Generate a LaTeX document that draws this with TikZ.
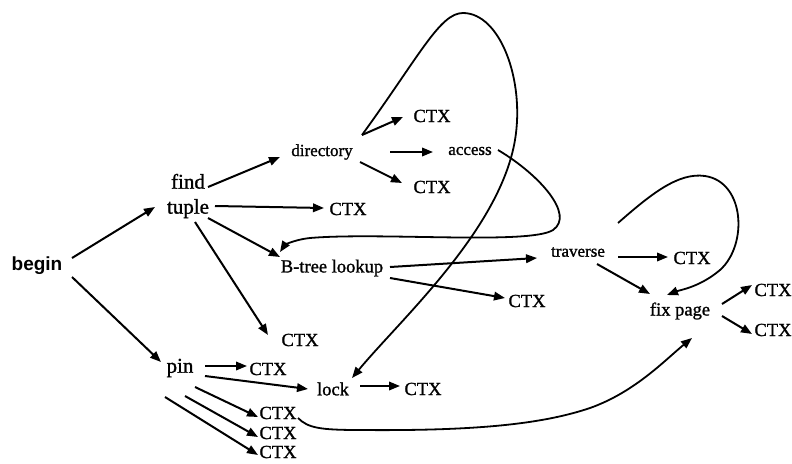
\documentclass[tikz,border=0pt]{standalone}
\usepackage{fontspec}
\setmainfont{Liberation Serif}[FakeBold=1.2]
\newfontfamily\bsans{Liberation Sans}
\usetikzlibrary{arrows.meta,calc}
\tikzset{
  lbl/.style={font=\fontsize{18.5}{20}\selectfont, inner sep=0pt},
  lsmall/.style={font=\fontsize{17}{18}\selectfont, inner sep=0pt},
  lbig/.style={font=\fontsize{21}{25}\selectfont, inner sep=0pt, align=center},
  lbegin/.style={font=\bsans\bfseries\fontsize{19}{20}\selectfont, inner sep=0pt},
  arr/.style={line width=2pt, -{Triangle[length=11pt,width=8.5pt]}},
  carr/.style={line width=1.8pt, -{Triangle[length=11pt,width=8.5pt]}}
}
\newcommand\arr[4]{\draw[arr] ($(#1)+(#2)$) -- ($(#3)+(#4)$);}
\begin{document}
\begin{tikzpicture}[x=1pt,y=-1pt]
\useasboundingbox (0,0) rectangle (792,463);
\node[lbegin] (begin) at (37,266) {begin};
\node[lbig] (ft) at (188,196) {find\\tuple};
\node[lsmall] (dir) at (322,152) {directory};
\node[lbl] (ctxA) at (432,116) {CTX};
\node[lsmall] (acc) at (470,151) {access};
\node[lbl] (ctxB) at (432,187) {CTX};
\node[lbl] (ctxC) at (348,209) {CTX};
\node[lbl] (bt) at (332,268) {B-tree lookup};
\node[lbl] (ctxD) at (300,340) {CTX};
\node[lsmall] (trv) at (578,252) {traverse};
\node[lbl] (ctxE) at (692,258) {CTX};
\node[lbl] (ctxF) at (527,301) {CTX};
\node[lbl] (fix) at (680,311) {fix page};
\node[lbl] (ctxG) at (773,290) {CTX};
\node[lbl] (ctxH) at (773,330) {CTX};
\node[lbig] (pin) at (180,368) {pin};
\node[lbl] (ctxI) at (268,369) {CTX};
\node[lbl] (lock) at (333,389) {lock};
\node[lbl] (ctxJ) at (423,389) {CTX};
\node[lbl] (ctxK) at (278,413) {CTX};
\node[lbl] (ctxL) at (278,433) {CTX};
\node[lbl] (ctxM) at (278,452) {CTX};

\arr{begin}{35,-8}{ft}{-33,11}
\arr{begin}{35,11}{pin}{-19,-6}
\arr{ft}{20,-9}{dir}{-42,5}
\arr{ft}{27,10}{ctxC}{-24,-1}
\arr{ft}{20,22}{bt}{-52,-11}
\arr{ft}{7,26}{ctxD}{-32,-5}
\arr{dir}{40,-17}{ctxA}{-29,1}
\arr{dir}{68,0}{acc}{-37,1}
\arr{dir}{38,10}{ctxB}{-30,-4}
\arr{bt}{58,-1}{trv}{-41,6}
\arr{bt}{58,10}{ctxF}{-22,-3}
\arr{trv}{40,5}{ctxE}{-24,-1}
\arr{trv}{19,12}{fix}{-30,-17}
\arr{fix}{42,-7}{ctxG}{-21,-5}
\arr{fix}{42,5}{ctxH}{-21,4}
\arr{pin}{25,-2}{ctxI}{-21,-3}
\arr{pin}{25,8}{lock}{-25,0}
\arr{lock}{27,-3}{ctxJ}{-23,-3}
\arr{pin}{15,19}{ctxK}{-20,4}
\arr{pin}{5,28}{ctxL}{-20,4}
\arr{pin}{-15,29}{ctxM}{-20,3}

% big loop from directory to lock
\draw[carr] ($(dir)+(40,-17)$) .. controls (420,55) and (440,13) .. (463,13)
  .. controls (500,13) and (525,80) .. (515,140)
  .. controls (500,230) and (400,320) .. ($(lock)+(19,-11)$);
% access back to B-tree lookup
\draw[carr] ($(acc)+(28,-1)$) .. controls (540,175) and (575,215) .. (553,230)
  .. controls (530,245) and (380,232) .. (310,238)
  .. controls (292,240) and (284,246) .. ($(bt)+(-52,-16)$);
% traverse loop to fix page
\draw[carr] ($(trv)+(40,-29)$) .. controls (650,195) and (678,172) .. (705,176)
  .. controls (745,182) and (748,245) .. (720,270)
  .. controls (700,287) and (680,290) .. ($(fix)+(-13,-16)$);
% CTX to fix page
\draw[carr] ($(ctxK)+(20,5)$) .. controls (308,428) and (320,430) .. (360,430)
  .. controls (470,431) and (540,425) .. (590,408)
  .. controls (635,392) and (665,360) .. ($(fix)+(12,27)$);
\end{tikzpicture}
\end{document}
